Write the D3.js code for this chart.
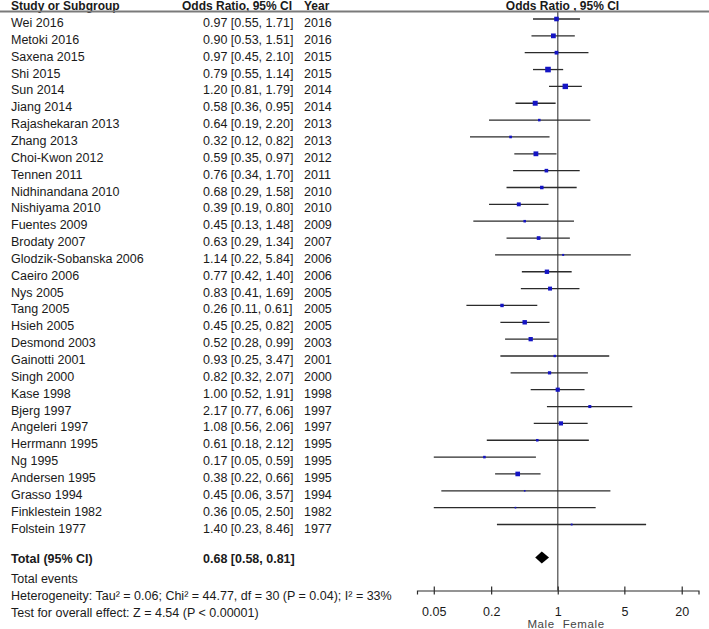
<!DOCTYPE html>
<html>
<head>
<meta charset="utf-8">
<script src="https://cdn.jsdelivr.net/npm/d3@7"></script>
<style>
  html, body { margin: 0; padding: 0; background: #fff; }
  svg { display: block; font-family: "Liberation Sans", Arial, sans-serif; }
</style>
</head>
<body>
<svg id="chart" width="709" height="629"></svg>
<script>
// ---------- DATA ----------
const studies = ["Wei 2016","Metoki 2016","Saxena 2015","Shi 2015","Sun 2014","Jiang 2014","Rajashekaran 2013","Zhang 2013","Choi-Kwon 2012","Tennen 2011","Nidhinandana 2010","Nishiyama 2010","Fuentes 2009","Brodaty 2007","Glodzik-Sobanska 2006","Caeiro 2006","Nys 2005","Tang 2005","Hsieh 2005","Desmond 2003","Gainotti 2001","Singh 2000","Kase 1998","Bjerg 1997","Angeleri 1997","Herrmann 1995","Ng 1995","Andersen 1995","Grasso 1994","Finklestein 1982","Folstein 1977"];
const oddsRatio = [0.97,0.90,0.97,0.79,1.20,0.58,0.64,0.32,0.59,0.76,0.68,0.39,0.45,0.63,1.14,0.77,0.83,0.26,0.45,0.52,0.93,0.82,1.00,2.17,1.08,0.61,0.17,0.38,0.45,0.36,1.40];
const lower = [0.55,0.53,0.45,0.55,0.81,0.36,0.19,0.12,0.35,0.34,0.29,0.19,0.13,0.29,0.22,0.42,0.41,0.11,0.25,0.28,0.25,0.32,0.52,0.77,0.56,0.18,0.05,0.22,0.06,0.05,0.23];
const upper = [1.71,1.51,2.10,1.14,1.79,0.95,2.20,0.82,0.97,1.70,1.58,0.80,1.48,1.34,5.84,1.40,1.69,0.61,0.82,0.99,3.47,2.07,1.91,6.06,2.06,2.12,0.59,0.66,3.57,2.50,8.46];
const years = [2016,2016,2015,2015,2014,2014,2013,2013,2012,2011,2010,2010,2009,2007,2006,2006,2005,2005,2005,2003,2001,2000,1998,1997,1997,1995,1995,1995,1994,1982,1977];
// estimated study weights (%)
const weights = [4.8,5.2,3.2,7.2,6.8,5.6,1.5,1.6,5.3,3.0,2.8,3.5,1.5,3.2,0.9,4.4,3.6,2.7,4.5,4.2,1.3,2.4,4.0,2.1,4.0,1.5,1.5,4.9,0.6,0.6,0.8];
const total = { or: 0.68, lo: 0.58, hi: 0.81 };
const tickValues = [0.05, 0.2, 1, 5, 20];
const headers = ["Study or Subgroup", "Odds Ratio, 95% CI", "Year", "Odds Ratio , 95% CI"];
const footer = ["Total events",
  "Heterogeneity: Tau\u00b2 = 0.06; Chi\u00b2 = 44.77, df = 30 (P = 0.04); I\u00b2 = 33%",
  "Test for overall effect: Z = 4.54 (P < 0.00001)"];
const axisLabels = ["Male", "Female"];

// ---------- LAYOUT ----------
const svg = d3.select("#chart");
const fmt = d3.format(".2f");
const textColor = "#1a1a1a";
const fs = 12.5;
const colStudy = 11, colOR = 203, colYear = 304;

const x = d3.scaleLog().domain([1/30, 30]).range([417, 698.5]);
const y = d3.scalePoint().domain(studies).range([19, 524.5]);
const box = d3.scaleSqrt().domain([0, 7.2]).range([0, 5.6]);
const axisY = 590.5;
const totalY = 557.5;

// header
const hdr = svg.append("g").attr("font-size", 12).attr("font-weight", "bold").attr("fill", textColor);
hdr.append("text").attr("x", colStudy).attr("y", 9.5).text(headers[0]);
hdr.append("text").attr("x", 182).attr("y", 9.5).text(headers[1]);
hdr.append("text").attr("x", colYear).attr("y", 9.5).text(headers[2]);
hdr.append("text").attr("x", 562.5).attr("y", 9.5).attr("text-anchor", "middle").text(headers[3]);
svg.append("line").attr("x1", 0).attr("x2", 709).attr("y1", 11.5).attr("y2", 11.5)
  .attr("stroke", "#7a7a7a").attr("stroke-width", 2);

// study rows text
const idx = d3.range(studies.length);
const rows = svg.append("g").attr("font-size", fs).attr("fill", textColor);
rows.selectAll("text.name").data(idx).join("text").attr("class", "name")
  .attr("x", colStudy).attr("y", i => y(studies[i]) + 8).text(i => studies[i]);
rows.selectAll("text.or").data(idx).join("text").attr("class", "or")
  .attr("x", colOR).attr("y", i => y(studies[i]) + 8)
  .text(i => `${fmt(oddsRatio[i])} [${fmt(lower[i])}, ${fmt(upper[i])}]`);
rows.selectAll("text.yr").data(idx).join("text").attr("class", "yr")
  .attr("x", colYear).attr("y", i => y(studies[i]) + 8).text(i => years[i]);

// null line
svg.append("line").attr("x1", x(1)).attr("x2", x(1)).attr("y1", 11).attr("y2", axisY)
  .attr("stroke", "#6e6e6e").attr("stroke-width", 1.5);

// CI lines
svg.append("g").selectAll("line").data(idx).join("line")
  .attr("x1", i => x(lower[i])).attr("x2", i => x(upper[i]))
  .attr("y1", i => y(studies[i])).attr("y2", i => y(studies[i]))
  .attr("stroke", "#2b2b2b").attr("stroke-width", 1.3);

// boxes
svg.append("g").selectAll("rect").data(idx).join("rect")
  .attr("x", i => x(oddsRatio[i]) - box(weights[i]) / 2)
  .attr("y", i => y(studies[i]) - box(weights[i]) / 2)
  .attr("width", i => box(weights[i])).attr("height", i => box(weights[i]))
  .attr("fill", "#1414c4");

// total row
const tot = svg.append("g").attr("font-size", fs).attr("font-weight", "bold").attr("fill", textColor);
tot.append("text").attr("x", colStudy).attr("y", totalY + 5).text("Total (95% CI)");
tot.append("text").attr("x", colOR).attr("y", totalY + 5)
  .text(`${fmt(total.or)} [${fmt(total.lo)}, ${fmt(total.hi)}]`);
const dh = 6;
svg.append("path")
  .attr("d", `M${x(total.lo)},${totalY} L${x(total.or)},${totalY - dh} L${x(total.hi)},${totalY} L${x(total.or)},${totalY + dh} Z`)
  .attr("fill", "#000");

// footer text
svg.append("g").attr("font-size", fs).attr("fill", textColor)
  .selectAll("text").data(footer).join("text")
  .attr("x", colStudy).attr("y", (d, i) => 582.5 + i * 17).text(d => d);

// axis
const axis = d3.axisBottom(x).tickValues(tickValues).tickFormat(d => String(d)).tickSizeOuter(0).tickSize(4);
const ax = svg.append("g").attr("transform", `translate(0,${axisY})`).call(axis);
ax.select(".domain").attr("stroke", "#2b2b2b").attr("stroke-width", 1.2);
ax.selectAll(".tick line").attr("y1", -4).attr("y2", 4).attr("stroke", "#2b2b2b").attr("stroke-width", 1.2);
ax.selectAll(".tick text").attr("y", 0).attr("dy", 0).attr("transform", "translate(0,25.5)")
  .attr("font-size", fs).attr("font-family", "Liberation Sans, Arial, sans-serif").attr("fill", textColor);

// Male / Female
const lab = svg.append("g").attr("font-size", 11.5).attr("fill", "#444").attr("letter-spacing", 0.6);
lab.append("text").attr("x", x(1) - 3).attr("y", 628).attr("text-anchor", "end").text(axisLabels[0]);
lab.append("text").attr("x", x(1) + 5).attr("y", 628).attr("text-anchor", "start").text(axisLabels[1]);
</script>
</body>
</html>
